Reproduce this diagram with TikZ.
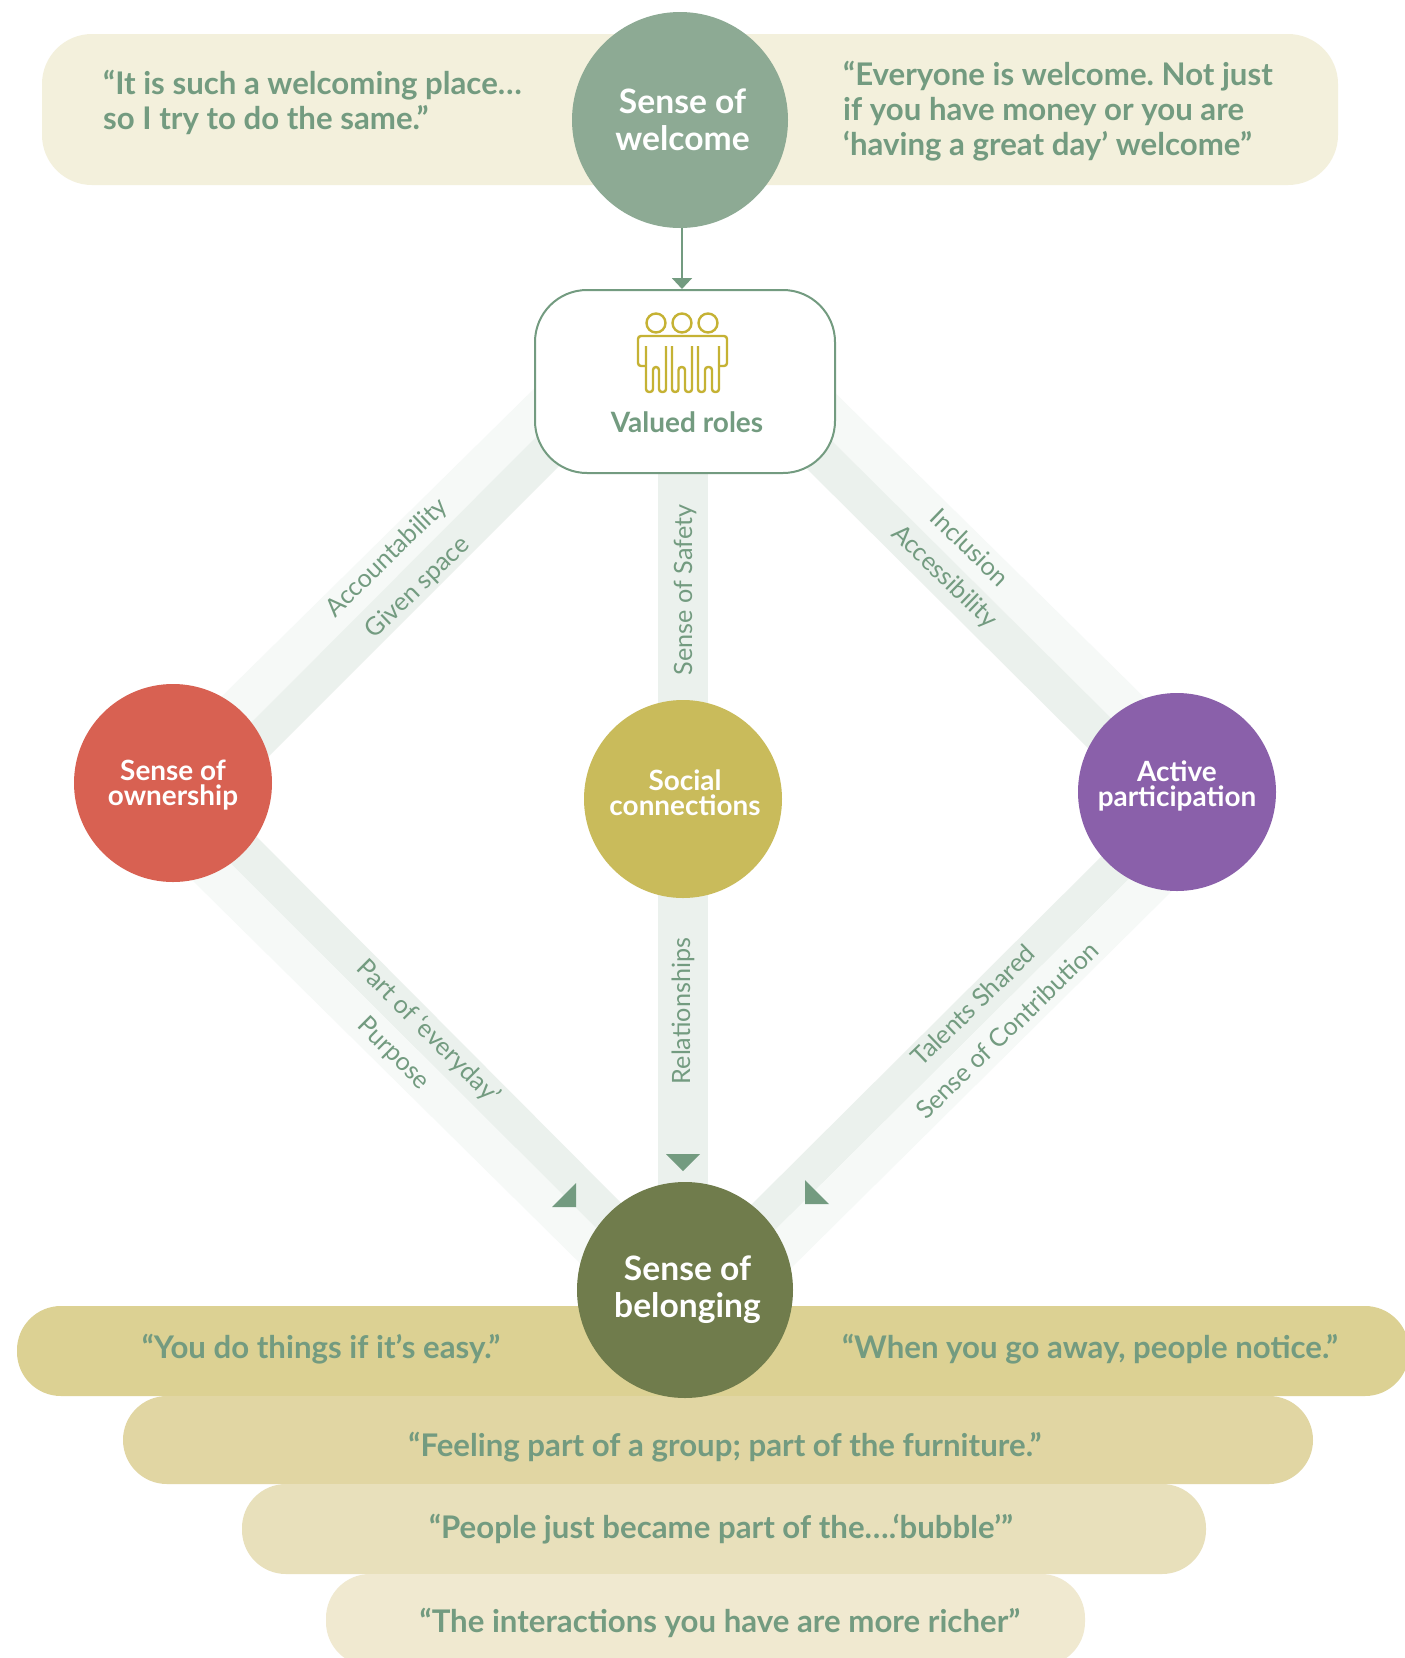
\documentclass[tikz,border=0pt]{standalone}
\usepackage{fontspec}
\setmainfont{Lato}
\usetikzlibrary{arrows.meta}
\pgfdeclarelayer{bg}
\pgfsetlayers{bg,main}
\definecolor{txtg}{HTML}{739B80}
\definecolor{bandl}{HTML}{F6F9F7}
\definecolor{bandd}{HTML}{EBF1ED}
\definecolor{ptop}{HTML}{F3F0DC}
\definecolor{pa}{HTML}{DCD193}
\definecolor{pb}{HTML}{E1D6A3}
\definecolor{pc}{HTML}{E8E0BB}
\definecolor{pd}{HTML}{F0E9D0}
\definecolor{cwel}{HTML}{8DAA94}
\definecolor{cown}{HTML}{D86152}
\definecolor{csoc}{HTML}{C9BB5B}
\definecolor{cact}{HTML}{8A60AA}
\definecolor{cbel}{HTML}{707C4C}
\definecolor{icon}{HTML}{C5B234}
\tikzset{
  pill/.style={rectangle,inner sep=0pt,rounded corners=44pt},
  bigcirc/.style={circle,inner sep=0pt,minimum size=216pt,text=white,align=center,
     font=\fontsize{33.6}{37}\selectfont\bfseries},
  midcirc/.style={circle,inner sep=0pt,minimum size=198pt,text=white,align=center,
     font=\fontsize{27.9}{25}\selectfont\bfseries},
  quote/.style={text=txtg,inner sep=0pt,align=left,
     font=\fontsize{31.2}{35}\selectfont\bfseries\frenchspacing},
  blabel/.style={text=txtg,inner sep=0pt,font=\fontsize{25.2}{28}\selectfont},
  ico/.style={draw=icon,line width=2.4pt,rounded corners=3pt},
}
\begin{document}
\begin{tikzpicture}[x=1pt,y=-1pt]
\useasboundingbox (0,0) rectangle (1405,1658);
\clip (0,0) rectangle (1405,1658);
% pills
\node[pill,rounded corners=50pt,fill=ptop,minimum width=1296pt,minimum height=151pt] (ptopbox) at (690,109.5) {};
\node[pill,fill=pa,minimum width=1392pt,minimum height=90pt] (p1) at (713,1351) {};
\node[pill,fill=pb,minimum width=1190pt,minimum height=88pt] (p2) at (718,1440) {};
\node[pill,fill=pc,minimum width=964pt,minimum height=90pt] (p3) at (724,1529) {};
\node[pill,fill=pd,minimum width=759pt,minimum height=92pt] (p4) at (705.5,1620) {};
% diagonal bands
\fill[bandl] (208,710) -- (545,378) -- (550,423) -- (237,737) -- cycle;
\fill[bandd] (237,737) -- (550,423) -- (572,453) -- (255,770) -- cycle;
\fill[bandl] (820,378) -- (1157,710) -- (1125,732) -- (820,429) -- cycle;
\fill[bandd] (820,429) -- (1125,732) -- (1102,762) -- (795,457) -- cycle;
\fill[bandd] (243,823) -- (635,1217) -- (610,1242) -- (217,850) -- cycle;
\fill[bandl] (217,850) -- (610,1242) -- (595,1278) -- (185,873) -- cycle;
\fill[bandd] (1115,843) -- (738,1218) -- (762,1243) -- (1140,868) -- cycle;
\fill[bandl] (1140,868) -- (762,1243) -- (777,1282) -- (1180,883) -- cycle;
% main nodes
\node[bigcirc,fill=cwel] (welcome) at (680,120) {\hspace*{5pt}Sense of\\\hspace*{5pt}welcome};
\node[rectangle,draw=txtg,line width=2pt,fill=white,rounded corners=52pt,inner sep=0pt,
      minimum width=300pt,minimum height=183pt] (valued) at (685,381.5) {};
\node[midcirc,fill=cown,text depth=1pt] (own) at (173,783) {Sense of\\ownership};
\node[midcirc,fill=csoc,text depth=12pt] (soc) at (683,799) {\hspace*{4pt}Social\\\hspace*{4pt}connections};
\node[midcirc,fill=cact,text depth=16pt] (act) at (1177,792) {Active\\participation};
\node[bigcirc,fill=cbel] (bel) at (685,1290) {\hspace*{5pt}Sense of\\\hspace*{5pt}belonging};
% vertical bands
\begin{pgfonlayer}{bg}
\fill[white] (0,0) rectangle (1405,1658);
\draw[bandd,line width=50pt] ([xshift=-2pt]valued.center) -- (soc.center);
\draw[bandd,line width=50pt] (soc.center) -- ([xshift=-2pt]bel.center);
\end{pgfonlayer}
% arrow
\draw[txtg,line width=2pt,-{Triangle[width=20pt,length=11pt]}] ([xshift=2pt]welcome.south) -- ([xshift=-3pt]valued.north);
% arrowheads near belonging
\fill[txtg] (666,1154) -- (700,1154) -- (683,1171) -- cycle;
\fill[txtg] (576,1183) -- (576,1207) -- (552,1207) -- cycle;
\fill[txtg] (805,1180) -- (805,1204) -- (829,1204) -- cycle;
% icon
\draw[icon,line width=2.4pt] (656,323) circle (9.5);
\draw[icon,line width=2.4pt] (682,323) circle (9.5);
\draw[icon,line width=2.4pt] (708,323) circle (9.5);
\draw[ico] (646,366) -- (638,366) -- (638,336) -- (727,336) -- (727,366) -- (719,366);
\draw[ico] (646,346) -- (646,392) -- (653,392) -- (653,367) -- (659,367) -- (659,392) -- (666,392) -- (666,346);
\draw[ico] (672,346) -- (672,392) -- (678.5,392) -- (678.5,367) -- (685,367) -- (685,392) -- (692,392) -- (692,346);
\draw[ico] (698,346) -- (698,392) -- (705,392) -- (705,367) -- (712,367) -- (712,392) -- (719,392) -- (719,346);
% texts
\node[text=txtg,inner sep=0pt,font=\fontsize{28}{30}\selectfont\bfseries] (vlabel) at (687,422) {Valued roles};
\node[quote,anchor=west] (q1) at (103,102) {“It is such a welcoming place…\\so I try to do the same.”};
\node[quote,anchor=west] (q2) at (843,111) {“Everyone is welcome. Not just\\if you have money or you are\\‘having a great day’ welcome”};
\node[quote] (q3) at (321,1349) {“You do things if it’s easy.”};
\node[quote] (q4) at (1090,1349) {“When you go away, people notice.”};
\node[quote] (q5) at (725,1447) {“Feeling part of a group; part of the furniture.”};
\node[quote] (q6) at (721,1529) {“People just became part of the….‘bubble’”};
\node[quote] (q7) at (720,1623) {“The interactions you have are more richer”};
\node[blabel,rotate=44] (l1) at (387,558) {Accountability};
\node[blabel,rotate=44] (l2) at (418,588) {Given space};
\node[blabel,rotate=-44] (l3) at (970,547) {Inclusion};
\node[blabel,rotate=-44] (l4) at (944,577) {Accessibility};
\node[blabel,rotate=90] (l5) at (685,590) {Sense of Safety};
\node[blabel,rotate=90] (l6) at (683,1011) {Relationships};
\node[blabel,rotate=-45] (l7) at (428,1032) {Part of ‘everyday’};
\node[blabel,rotate=-45] (l8) at (393,1054) {Purpose};
\node[blabel,rotate=44] (l9) at (973,1005) {Talents Shared};
\node[blabel,rotate=44] (l10) at (1007,1030) {Sense of Contribution};
\end{tikzpicture}
\end{document}
